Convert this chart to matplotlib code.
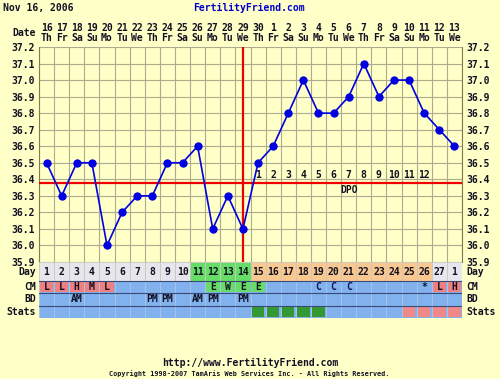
import numpy as np
import matplotlib
matplotlib.use("Agg")
import matplotlib.pyplot as plt

# chart data
temps = [36.5, 36.3, 36.5, 36.5, 36.0, 36.2, 36.3, 36.3, 36.5, 36.5, 36.6, 36.1, 36.3, 36.1,
         36.5, 36.6, 36.8, 37.0, 36.8, 36.8, 36.9, 37.1, 36.9, 37.0, 37.0, 36.8, 36.7, 36.6]
dates = ['16', '17', '18', '19', '20', '21', '22', '23', '24', '25', '26', '27', '28', '29', '30',
         '1', '2', '3', '4', '5', '6', '7', '8', '9', '10', '11', '12', '13']
weekdays = ['Th', 'Fr', 'Sa', 'Su', 'Mo', 'Tu', 'We'] * 4
cycle_days = [str(i) for i in range(1, 28)] + ['1']
phase = ['pre'] * 10 + ['fertile'] * 4 + ['post'] * 12 + ['pre'] * 2
cm = ['L', 'L', 'H', 'M', 'L', '', '', '', '', '', '', 'E', 'W', 'E', 'E', '', '', '',
      'C', 'C', 'C', '', '', '', '', '*', 'L', 'H']
bd = ['', '', 'AM', '', '', '', '', 'PM', 'PM', '', 'AM', 'PM', '', 'PM'] + [''] * 14
stats = [''] * 14 + ['g'] * 5 + [''] * 5 + ['p'] * 4
coverline = 36.38
ovulation_day = 14
dpo = [str(i) for i in range(1, 13)]

BG = '#ffffc8'
GRID = '#aeaa90'
BLUE_ROW = '#82b2ee'
PINK = '#ee8080'
GREEN = '#66dd66'
phase_col = {'pre': '#e6e6ec', 'fertile': GREEN, 'post': '#f8c890'}
FONT = dict(family='DejaVu Sans Mono', fontweight='bold', fontsize=7, color='#111122')

W, H = 500, 379
def fx(p): return p / W
def fy(p): return 1 - p / H

L, R, T, B = 39, 462, 47, 262
n = len(temps)
days = np.arange(1, n + 1)

fig = plt.figure(figsize=(5, 3.79), dpi=100)
fig.patch.set_facecolor(BG)

#### temperature panel ####
ax = fig.add_axes([fx(L), fy(B), fx(R) - fx(L), fy(T) - fy(B)])
ax.set_facecolor(BG)
ax.set_xlim(0.5, n + 0.5)
ax.set_ylim(35.9, 37.2)
ax.set_xticks(days)
ax.set_xticklabels([d + '\n' + w for d, w in zip(dates, weekdays)], linespacing=0.95, **FONT)
ax.set_xticks(np.arange(0.5, n + 1), minor=True)
yt = np.round(np.arange(35.9, 37.25, 0.1), 1)
ax.set_yticks(yt)
ax.set_yticklabels(['%.1f' % v for v in yt], **FONT)
ax.tick_params(axis='x', which='both', length=0, labeltop=True, labelbottom=False, pad=3)
ax.tick_params(axis='y', length=0, labelleft=True, labelright=True, pad=3)
ax.grid(True, which='minor', axis='x', color=GRID, lw=0.8)
ax.grid(True, which='major', axis='y', color=GRID, lw=0.8)
for s in ax.spines.values():
    s.set_visible(False)
ax.spines['left'].set_visible(True)
ax.spines['right'].set_visible(True)
ax.spines['left'].set_color('#807c50')
ax.spines['right'].set_color('#807c50')

ax.axhline(coverline, color='#ee0000', lw=1.6, zorder=3)
ax.axvline(ovulation_day, color='#ee0000', lw=1.6, zorder=3)
ax.plot(days, temps, color='#0000e0', lw=1.2, marker='o', ms=6, mew=0, zorder=4)

for i, lab in enumerate(dpo):
    ax.text(ovulation_day + 1 + i, 36.425, lab, ha='center', va='center', **FONT)
ax.text(21, 36.335, 'DPO', ha='center', va='center', **FONT)

#### rows below the chart ####
ax2 = fig.add_axes([fx(L), fy(318), fx(R) - fx(L), fy(B) - fy(318)])
ax2.set_xlim(0.5, n + 0.5)
ax2.set_ylim(318, B)
ax2.axis('off')

rows = {'Day': (262, 280.5), 'CM': (280.5, 292.5), 'BD': (292.5, 305.5), 'Stats': (305.5, 318)}

y0, y1 = rows['Day']
ax2.bar(days, y1 - y0, bottom=y0, width=1, color=[phase_col[p] for p in phase],
        edgecolor='#c8c8c0', lw=0.6)
for d, lab in zip(days, cycle_days):
    ax2.text(d, (y0 + y1) / 2 + 0.5, lab, ha='center', va='center', **FONT)

for name in ['CM', 'BD', 'Stats']:
    y0, y1 = rows[name]
    ax2.bar(days, y1 - y0, bottom=y0, width=1, color=BLUE_ROW, edgecolor='#a8c4ec', lw=0.6)

y0, y1 = rows['CM']
cm_col = []
for c in cm:
    if c in ('L', 'H', 'M'):
        cm_col.append(PINK)
    elif c in ('E', 'W'):
        cm_col.append(GREEN)
    else:
        cm_col.append('none')
ax2.bar(days, y1 - y0 - 1, bottom=y0 + 0.5, width=0.9, color=cm_col)
for d, lab in zip(days, cm):
    if lab:
        col = '#101060' if lab == 'C' else '#111122'
        ax2.text(d, (y0 + y1) / 2 + 0.5, lab, ha='center', va='center',
                 **{**FONT, 'color': col})

y0, y1 = rows['BD']
for d, lab in zip(days, bd):
    if lab:
        ax2.text(d, (y0 + y1) / 2 + 0.5, lab, ha='center', va='center', **FONT)

y0, y1 = rows['Stats']
st_col = {'g': '#339933', 'p': '#f08888', '': 'none'}
ax2.bar(days, y1 - y0 - 3, bottom=y0 + 1.5, width=0.82, color=[st_col[s] for s in stats])

for y in [280.5, 292.5, 305.5]:
    ax2.axhline(y, color='#3a4a78', lw=0.8)

for name, (y0, y1) in rows.items():
    yy = fy((y0 + y1) / 2 + 0.5)
    fig.text(fx(36), yy, name, ha='right', va='center', **FONT)
    fig.text(fx(466), yy, name, ha='left', va='center', **FONT)

#### header and footer ####
fig.text(fx(3), fy(8), 'Nov 16, 2006', ha='left', va='center', **FONT)
fig.text(fx(249), fy(8), 'FertilityFriend.com', ha='center', va='center',
         **{**FONT, 'color': '#0000cc'})
fig.text(fx(36), fy(33), 'Date', ha='right', va='center', **FONT)
fig.text(fx(250), fy(363), 'http://www.FertilityFriend.com', ha='center', va='center', **FONT)
fig.text(fx(249), fy(374), 'Copyright 1998-2007 TamAris Web Services Inc. - All Rights Reserved.',
         ha='center', va='center', **{**FONT, 'fontsize': 4.9})

fig.savefig('out.png', dpi=100, facecolor=BG)
